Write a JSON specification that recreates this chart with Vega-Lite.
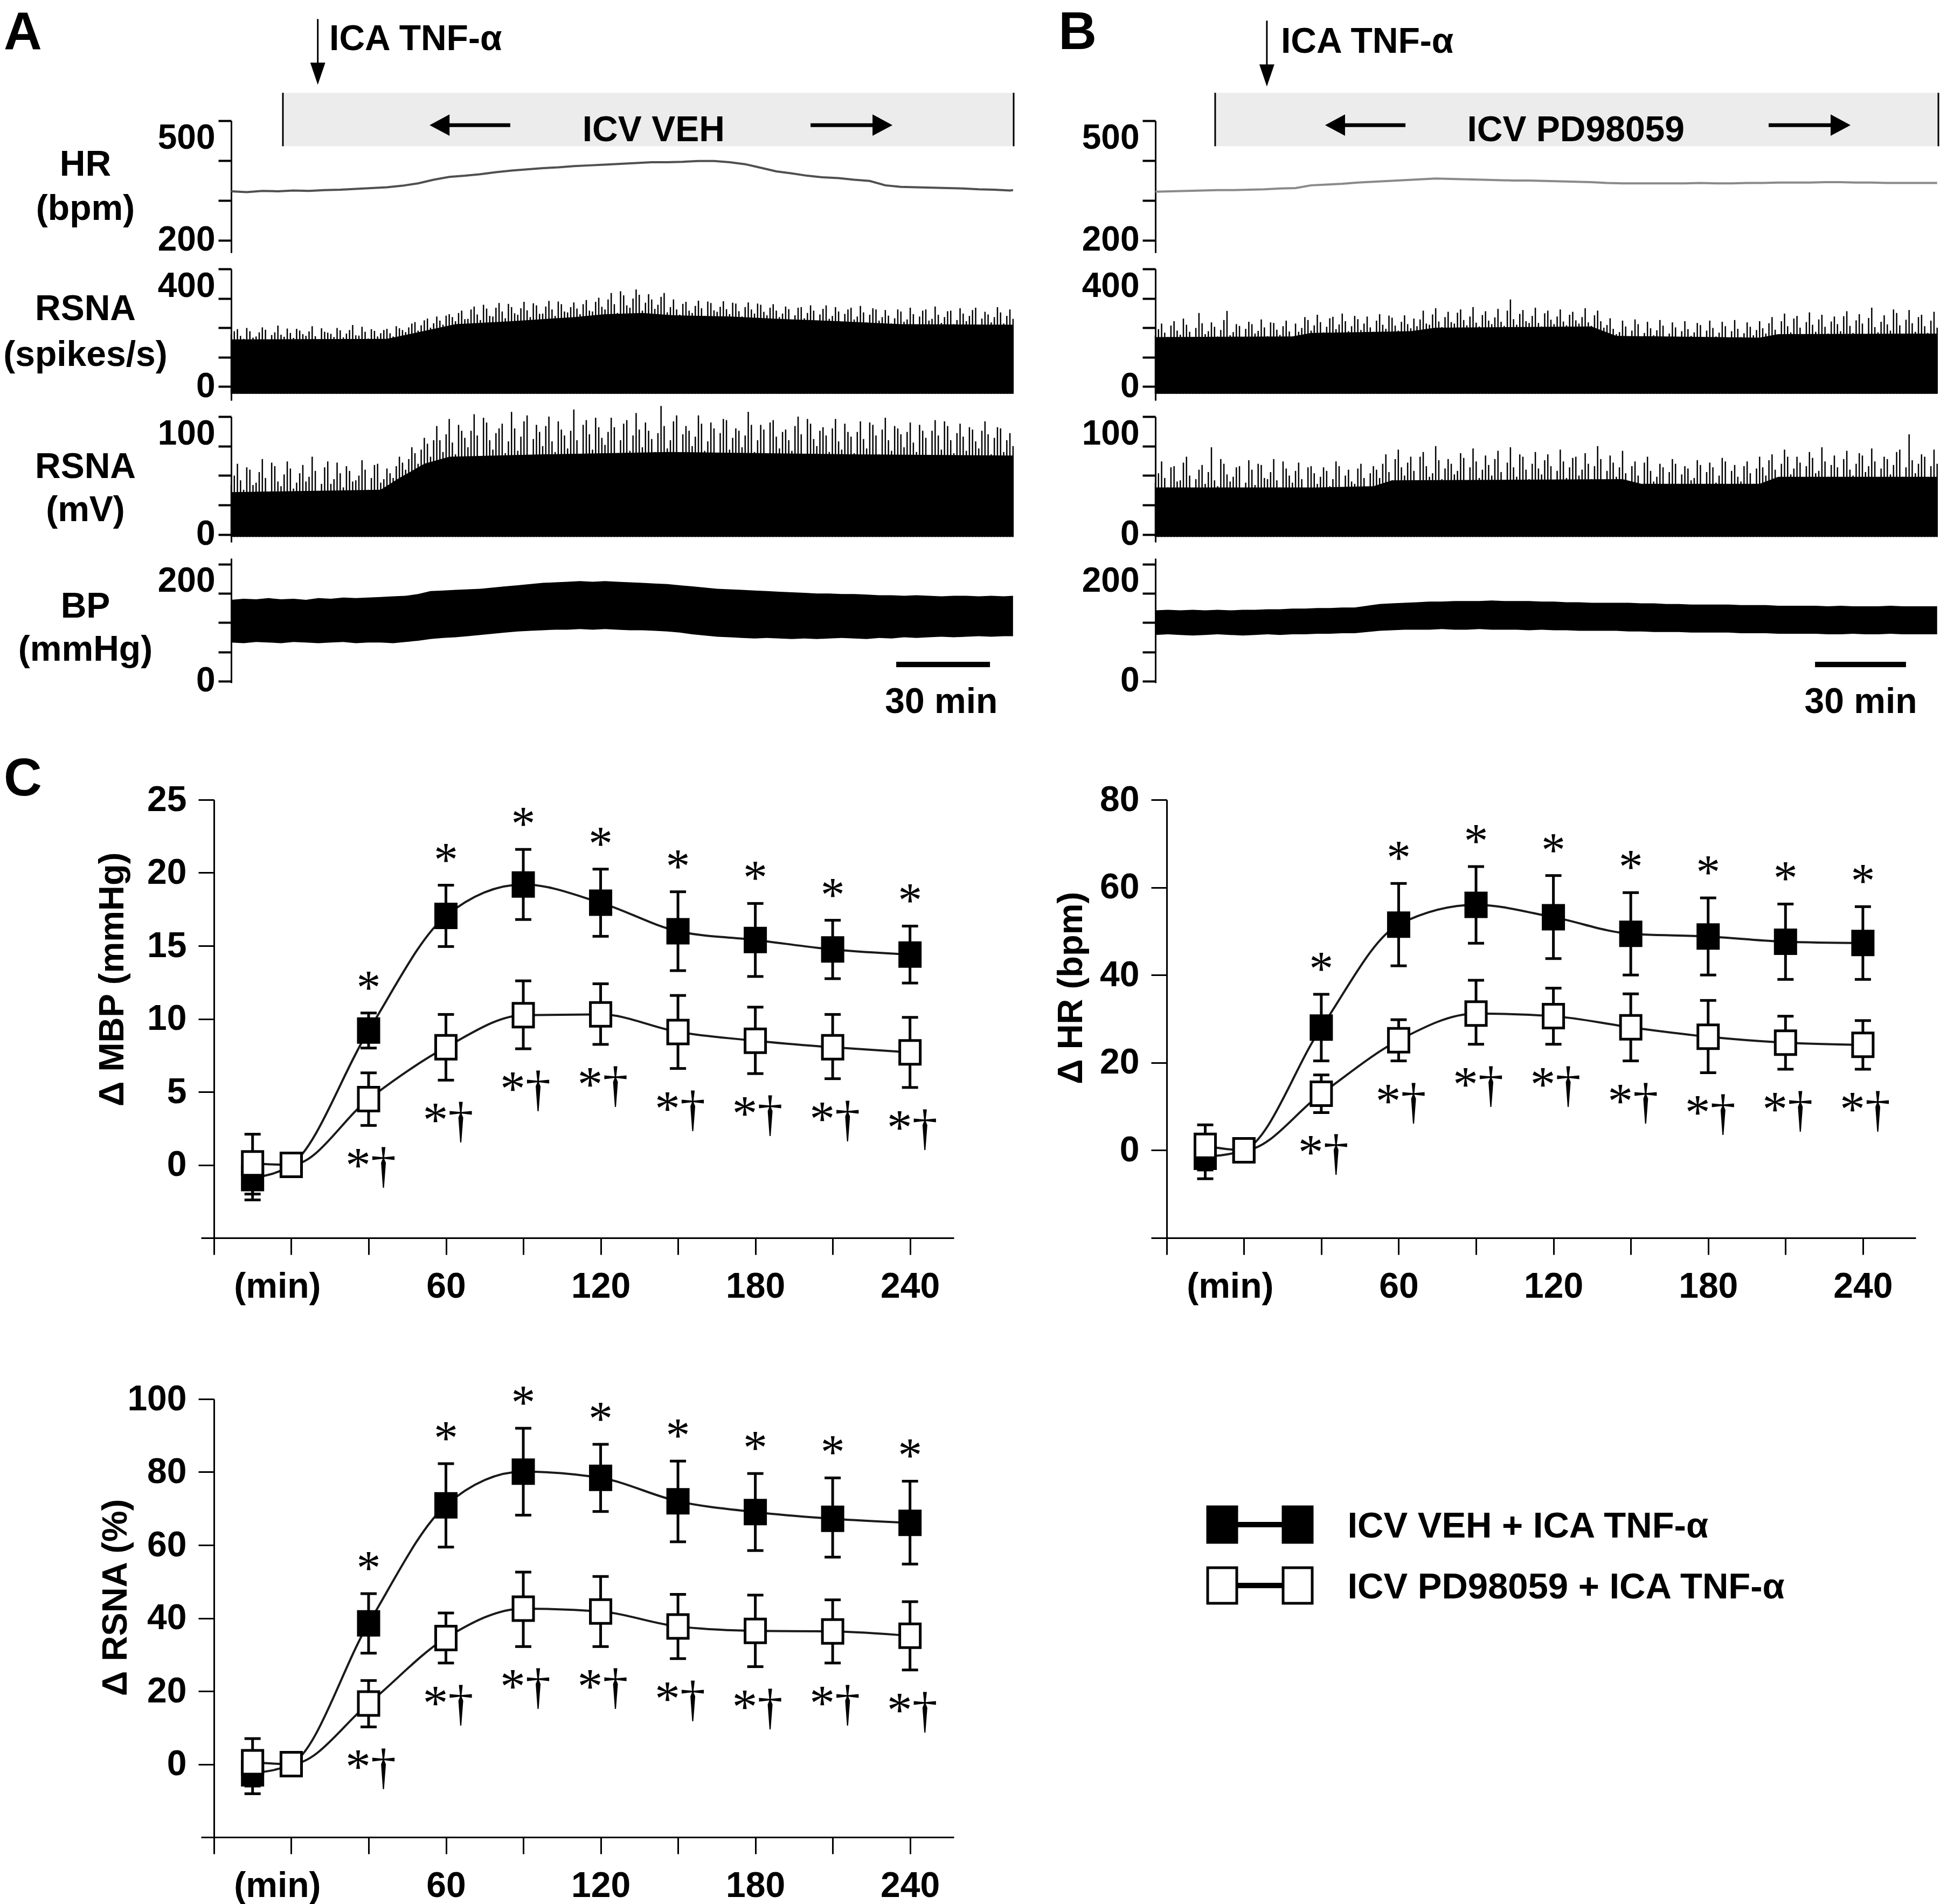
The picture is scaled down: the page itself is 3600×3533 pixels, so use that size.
{
"$schema":"https://vega.github.io/schema/vega-lite/v6.json",
"background":"white",
"padding":{"left":5,"top":13,"right":5,"bottom":5},
"config":{"view":{"stroke":null},"font":"Liberation Sans","axis":{"domainColor":"black","tickColor":"black","labelColor":"black","titleColor":"black","grid":false}},
"datasets":{
"hrA":[{"t":0,"v":323},{"t":5,"v":321},{"t":10,"v":324},{"t":15,"v":323},{"t":20,"v":325},{"t":25,"v":324},{"t":30,"v":326},{"t":35,"v":327},{"t":40,"v":329},{"t":45,"v":331},{"t":50,"v":333},{"t":55,"v":337},{"t":60,"v":343},{"t":65,"v":352},{"t":70,"v":359},{"t":75,"v":362},{"t":80,"v":366},{"t":85,"v":371},{"t":90,"v":375},{"t":95,"v":378},{"t":100,"v":381},{"t":105,"v":383},{"t":110,"v":386},{"t":115,"v":388},{"t":120,"v":390},{"t":125,"v":392},{"t":130,"v":394},{"t":135,"v":396},{"t":140,"v":396},{"t":145,"v":397},{"t":150,"v":399},{"t":155,"v":399},{"t":160,"v":396},{"t":165,"v":391},{"t":170,"v":382},{"t":175,"v":373},{"t":180,"v":368},{"t":185,"v":362},{"t":190,"v":358},{"t":195,"v":356},{"t":200,"v":352},{"t":205,"v":349},{"t":210,"v":338},{"t":215,"v":334},{"t":220,"v":333},{"t":225,"v":332},{"t":230,"v":331},{"t":235,"v":330},{"t":240,"v":328},{"t":245,"v":327},{"t":250,"v":325},{"t":251,"v":326}],
"hrB":[{"t":0,"v":322},{"t":5,"v":323},{"t":10,"v":324},{"t":15,"v":325},{"t":20,"v":326},{"t":25,"v":326},{"t":30,"v":327},{"t":35,"v":328},{"t":40,"v":330},{"t":45,"v":331},{"t":50,"v":338},{"t":55,"v":340},{"t":60,"v":342},{"t":65,"v":345},{"t":70,"v":347},{"t":75,"v":349},{"t":80,"v":351},{"t":85,"v":353},{"t":90,"v":355},{"t":95,"v":354},{"t":100,"v":353},{"t":105,"v":352},{"t":110,"v":351},{"t":115,"v":350},{"t":120,"v":350},{"t":125,"v":349},{"t":130,"v":348},{"t":135,"v":347},{"t":140,"v":346},{"t":145,"v":344},{"t":150,"v":343},{"t":155,"v":343},{"t":160,"v":343},{"t":165,"v":343},{"t":170,"v":343},{"t":175,"v":344},{"t":180,"v":343},{"t":185,"v":343},{"t":190,"v":344},{"t":195,"v":344},{"t":200,"v":345},{"t":205,"v":345},{"t":210,"v":345},{"t":215,"v":346},{"t":220,"v":346},{"t":225,"v":345},{"t":230,"v":345},{"t":235,"v":344},{"t":240,"v":344},{"t":245,"v":344},{"t":250,"v":344},{"t":251,"v":344}],
"spkAb":[{"t":0,"b":160},{"t":50,"b":162},{"t":58,"b":180},{"t":66,"b":198},{"t":72,"b":212},{"t":90,"b":222},{"t":110,"b":236},{"t":120,"b":246},{"t":132,"b":250},{"t":142,"b":242},{"t":160,"b":238},{"t":176,"b":230},{"t":195,"b":222},{"t":215,"b":212},{"t":251,"b":210}],
"spkBb":[{"t":0,"b":168},{"t":44,"b":170},{"t":50,"b":182},{"t":82,"b":188},{"t":90,"b":200},{"t":140,"b":204},{"t":148,"b":172},{"t":194,"b":166},{"t":200,"b":178},{"t":251,"b":180}],
"mvAb":[{"t":0,"b":36},{"t":48,"b":38},{"t":54,"b":48},{"t":62,"b":60},{"t":70,"b":66},{"t":100,"b":68},{"t":140,"b":70},{"t":200,"b":68},{"t":251,"b":67}],
"mvBb":[{"t":0,"b":40},{"t":52,"b":40},{"t":70,"b":41},{"t":76,"b":46},{"t":150,"b":47},{"t":156,"b":43},{"t":194,"b":43},{"t":200,"b":49},{"t":251,"b":49}],
"spkA":[{"t":0,"v":178},{"t":2,"v":195},{"t":4,"v":162},{"t":6,"v":188},{"t":8,"v":170},{"t":10,"v":201},{"t":12,"v":158},{"t":14,"v":184},{"t":16,"v":176},{"t":18,"v":197},{"t":20,"v":165},{"t":22,"v":190},{"t":24,"v":172},{"t":26,"v":205},{"t":28,"v":160},{"t":30,"v":186},{"t":32,"v":179},{"t":34,"v":199},{"t":36,"v":167},{"t":38,"v":192},{"t":40,"v":174},{"t":42,"v":203},{"t":44,"v":163},{"t":46,"v":189},{"t":48,"v":181},{"t":50,"v":196},{"t":52,"v":170},{"t":54,"v":198},{"t":56,"v":185},{"t":58,"v":214},{"t":60,"v":190},{"t":62,"v":225},{"t":64,"v":200},{"t":66,"v":238},{"t":68,"v":210},{"t":70,"v":246},{"t":72,"v":222},{"t":74,"v":258},{"t":76,"v":230},{"t":78,"v":272},{"t":80,"v":226},{"t":82,"v":265},{"t":84,"v":238},{"t":86,"v":284},{"t":88,"v":232},{"t":90,"v":270},{"t":92,"v":244},{"t":94,"v":288},{"t":96,"v":236},{"t":98,"v":276},{"t":100,"v":248},{"t":102,"v":291},{"t":104,"v":240},{"t":106,"v":280},{"t":108,"v":252},{"t":110,"v":286},{"t":112,"v":246},{"t":114,"v":294},{"t":116,"v":255},{"t":118,"v":302},{"t":120,"v":262},{"t":122,"v":318},{"t":124,"v":250},{"t":126,"v":310},{"t":128,"v":268},{"t":130,"v":330},{"t":132,"v":258},{"t":134,"v":314},{"t":136,"v":264},{"t":138,"v":305},{"t":140,"v":252},{"t":142,"v":296},{"t":144,"v":244},{"t":146,"v":288},{"t":148,"v":250},{"t":150,"v":292},{"t":152,"v":240},{"t":154,"v":284},{"t":156,"v":254},{"t":158,"v":290},{"t":160,"v":246},{"t":162,"v":282},{"t":164,"v":238},{"t":166,"v":286},{"t":168,"v":248},{"t":170,"v":278},{"t":172,"v":242},{"t":174,"v":280},{"t":176,"v":236},{"t":178,"v":272},{"t":180,"v":226},{"t":182,"v":268},{"t":184,"v":232},{"t":186,"v":276},{"t":188,"v":222},{"t":190,"v":264},{"t":192,"v":230},{"t":194,"v":270},{"t":196,"v":220},{"t":198,"v":262},{"t":200,"v":228},{"t":202,"v":274},{"t":204,"v":218},{"t":206,"v":266},{"t":208,"v":224},{"t":210,"v":260},{"t":212,"v":214},{"t":214,"v":262},{"t":216,"v":220},{"t":218,"v":268},{"t":220,"v":210},{"t":222,"v":258},{"t":224,"v":224},{"t":226,"v":272},{"t":228,"v":216},{"t":230,"v":256},{"t":232,"v":212},{"t":234,"v":266},{"t":236,"v":222},{"t":238,"v":260},{"t":240,"v":208},{"t":242,"v":254},{"t":244,"v":218},{"t":246,"v":270},{"t":248,"v":214},{"t":250,"v":262},{"t":251,"v":230},
{"t":1,"v":188},{"t":3,"v":172},{"t":5,"v":199},{"t":7,"v":166},{"t":9,"v":184},{"t":11,"v":193},{"t":13,"v":175},{"t":15,"v":207},{"t":17,"v":169},{"t":19,"v":182},{"t":21,"v":196},{"t":23,"v":178},{"t":25,"v":187},{"t":27,"v":171},{"t":29,"v":198},{"t":31,"v":183},{"t":33,"v":168},{"t":35,"v":191},{"t":37,"v":180},{"t":39,"v":209},{"t":41,"v":173},{"t":43,"v":186},{"t":45,"v":195},{"t":47,"v":170},{"t":49,"v":192},{"t":51,"v":181},{"t":53,"v":205},{"t":55,"v":192},{"t":57,"v":201},{"t":59,"v":219},{"t":61,"v":208},{"t":63,"v":231},{"t":65,"v":215},{"t":67,"v":224},{"t":69,"v":241},{"t":71,"v":236},{"t":73,"v":250},{"t":75,"v":229},{"t":77,"v":262},{"t":79,"v":245},{"t":81,"v":278},{"t":83,"v":240},{"t":85,"v":268},{"t":87,"v":255},{"t":89,"v":281},{"t":91,"v":249},{"t":93,"v":266},{"t":95,"v":259},{"t":97,"v":283},{"t":99,"v":247},{"t":101,"v":272},{"t":103,"v":262},{"t":105,"v":289},{"t":107,"v":255},{"t":109,"v":270},{"t":111,"v":265},{"t":113,"v":280},{"t":115,"v":258},{"t":117,"v":288},{"t":119,"v":271},{"t":121,"v":296},{"t":123,"v":280},{"t":125,"v":324},{"t":127,"v":276},{"t":129,"v":299},{"t":131,"v":312},{"t":133,"v":285},{"t":135,"v":296},{"t":137,"v":278},{"t":139,"v":318},{"t":141,"v":270},{"t":143,"v":262},{"t":145,"v":281},{"t":147,"v":258},{"t":149,"v":274},{"t":151,"v":266},{"t":153,"v":289},{"t":155,"v":259},{"t":157,"v":271},{"t":159,"v":263},{"t":161,"v":285},{"t":163,"v":256},{"t":165,"v":270},{"t":167,"v":262},{"t":169,"v":282},{"t":171,"v":254},{"t":173,"v":268},{"t":175,"v":258},{"t":177,"v":248},{"t":179,"v":263},{"t":181,"v":242},{"t":183,"v":270},{"t":185,"v":250},{"t":187,"v":258},{"t":189,"v":245},{"t":191,"v":276},{"t":193,"v":240},{"t":195,"v":255},{"t":197,"v":247},{"t":199,"v":268},{"t":201,"v":238},{"t":203,"v":252},{"t":205,"v":244},{"t":207,"v":262},{"t":209,"v":236},{"t":211,"v":241},{"t":213,"v":232},{"t":215,"v":255},{"t":217,"v":228},{"t":219,"v":246},{"t":221,"v":238},{"t":223,"v":262},{"t":225,"v":230},{"t":227,"v":244},{"t":229,"v":236},{"t":231,"v":258},{"t":233,"v":226},{"t":235,"v":248},{"t":237,"v":240},{"t":239,"v":268},{"t":241,"v":231},{"t":243,"v":245},{"t":245,"v":236},{"t":247,"v":252},{"t":249,"v":240}],
"spkB":[{"t":0,"v":172},{"t":2,"v":214},{"t":4,"v":168},{"t":6,"v":222},{"t":8,"v":176},{"t":10,"v":210},{"t":12,"v":165},{"t":14,"v":250},{"t":16,"v":178},{"t":18,"v":218},{"t":20,"v":170},{"t":22,"v":226},{"t":24,"v":174},{"t":26,"v":212},{"t":28,"v":166},{"t":30,"v":220},{"t":32,"v":180},{"t":34,"v":228},{"t":36,"v":171},{"t":38,"v":216},{"t":40,"v":175},{"t":42,"v":224},{"t":44,"v":169},{"t":46,"v":186},{"t":48,"v":236},{"t":50,"v":190},{"t":52,"v":244},{"t":54,"v":184},{"t":56,"v":232},{"t":58,"v":195},{"t":60,"v":248},{"t":62,"v":188},{"t":64,"v":240},{"t":66,"v":192},{"t":68,"v":238},{"t":70,"v":186},{"t":72,"v":246},{"t":74,"v":196},{"t":76,"v":234},{"t":78,"v":190},{"t":80,"v":242},{"t":82,"v":198},{"t":84,"v":205},{"t":86,"v":258},{"t":88,"v":210},{"t":90,"v":266},{"t":92,"v":202},{"t":94,"v":254},{"t":96,"v":214},{"t":98,"v":262},{"t":100,"v":208},{"t":102,"v":270},{"t":104,"v":204},{"t":106,"v":256},{"t":108,"v":212},{"t":110,"v":264},{"t":112,"v":206},{"t":114,"v":296},{"t":116,"v":210},{"t":118,"v":260},{"t":120,"v":216},{"t":122,"v":268},{"t":124,"v":204},{"t":126,"v":258},{"t":128,"v":212},{"t":130,"v":262},{"t":132,"v":208},{"t":134,"v":254},{"t":136,"v":214},{"t":138,"v":266},{"t":140,"v":206},{"t":142,"v":258},{"t":144,"v":200},{"t":146,"v":232},{"t":148,"v":178},{"t":150,"v":224},{"t":152,"v":170},{"t":154,"v":228},{"t":156,"v":166},{"t":158,"v":220},{"t":160,"v":174},{"t":162,"v":226},{"t":164,"v":168},{"t":166,"v":218},{"t":168,"v":164},{"t":170,"v":222},{"t":172,"v":172},{"t":174,"v":216},{"t":176,"v":166},{"t":178,"v":224},{"t":180,"v":170},{"t":182,"v":220},{"t":184,"v":162},{"t":186,"v":226},{"t":188,"v":168},{"t":190,"v":218},{"t":192,"v":174},{"t":194,"v":222},{"t":196,"v":180},{"t":198,"v":236},{"t":200,"v":176},{"t":202,"v":248},{"t":204,"v":184},{"t":206,"v":240},{"t":208,"v":178},{"t":210,"v":252},{"t":212,"v":186},{"t":214,"v":244},{"t":216,"v":180},{"t":218,"v":238},{"t":220,"v":188},{"t":222,"v":256},{"t":224,"v":182},{"t":226,"v":246},{"t":228,"v":176},{"t":230,"v":268},{"t":232,"v":184},{"t":234,"v":242},{"t":236,"v":190},{"t":238,"v":250},{"t":240,"v":180},{"t":242,"v":260},{"t":244,"v":186},{"t":246,"v":244},{"t":248,"v":182},{"t":250,"v":254},{"t":251,"v":200},
{"t":1,"v":195},{"t":3,"v":183},{"t":5,"v":207},{"t":7,"v":190},{"t":9,"v":231},{"t":11,"v":186},{"t":13,"v":199},{"t":15,"v":215},{"t":17,"v":188},{"t":19,"v":203},{"t":21,"v":192},{"t":23,"v":257},{"t":25,"v":185},{"t":27,"v":206},{"t":29,"v":196},{"t":31,"v":212},{"t":33,"v":189},{"t":35,"v":201},{"t":37,"v":218},{"t":39,"v":193},{"t":41,"v":205},{"t":43,"v":187},{"t":45,"v":214},{"t":47,"v":199},{"t":49,"v":226},{"t":51,"v":208},{"t":53,"v":219},{"t":55,"v":203},{"t":57,"v":237},{"t":59,"v":211},{"t":61,"v":222},{"t":63,"v":205},{"t":65,"v":229},{"t":67,"v":214},{"t":69,"v":201},{"t":71,"v":224},{"t":73,"v":210},{"t":75,"v":241},{"t":77,"v":207},{"t":79,"v":220},{"t":81,"v":212},{"t":83,"v":231},{"t":85,"v":228},{"t":87,"v":214},{"t":89,"v":245},{"t":91,"v":221},{"t":93,"v":236},{"t":95,"v":219},{"t":97,"v":251},{"t":99,"v":226},{"t":101,"v":238},{"t":103,"v":217},{"t":105,"v":243},{"t":107,"v":224},{"t":109,"v":235},{"t":111,"v":220},{"t":113,"v":258},{"t":115,"v":229},{"t":117,"v":247},{"t":119,"v":222},{"t":121,"v":240},{"t":123,"v":216},{"t":125,"v":249},{"t":127,"v":227},{"t":129,"v":238},{"t":131,"v":221},{"t":133,"v":244},{"t":135,"v":225},{"t":137,"v":236},{"t":139,"v":218},{"t":141,"v":242},{"t":143,"v":222},{"t":145,"v":209},{"t":147,"v":196},{"t":149,"v":185},{"t":151,"v":204},{"t":153,"v":190},{"t":155,"v":212},{"t":157,"v":182},{"t":159,"v":198},{"t":161,"v":191},{"t":163,"v":207},{"t":165,"v":180},{"t":167,"v":201},{"t":169,"v":188},{"t":171,"v":195},{"t":173,"v":184},{"t":175,"v":209},{"t":177,"v":190},{"t":179,"v":199},{"t":181,"v":183},{"t":183,"v":205},{"t":185,"v":188},{"t":187,"v":196},{"t":189,"v":181},{"t":191,"v":203},{"t":193,"v":192},{"t":195,"v":198},{"t":197,"v":215},{"t":199,"v":193},{"t":201,"v":222},{"t":203,"v":205},{"t":205,"v":231},{"t":207,"v":200},{"t":209,"v":219},{"t":211,"v":210},{"t":213,"v":228},{"t":215,"v":203},{"t":217,"v":221},{"t":219,"v":212},{"t":221,"v":239},{"t":223,"v":206},{"t":225,"v":225},{"t":227,"v":214},{"t":229,"v":233},{"t":231,"v":202},{"t":233,"v":220},{"t":235,"v":211},{"t":237,"v":262},{"t":239,"v":208},{"t":241,"v":227},{"t":243,"v":215},{"t":245,"v":236},{"t":247,"v":205},{"t":249,"v":224}],
"mvA":[{"t":0,"v":42},{"t":2,"v":60},{"t":4,"v":38},{"t":6,"v":55},{"t":8,"v":44},{"t":10,"v":64},{"t":12,"v":36},{"t":14,"v":58},{"t":16,"v":41},{"t":18,"v":62},{"t":20,"v":39},{"t":22,"v":52},{"t":24,"v":45},{"t":26,"v":66},{"t":28,"v":37},{"t":30,"v":57},{"t":32,"v":43},{"t":34,"v":61},{"t":36,"v":40},{"t":38,"v":54},{"t":40,"v":46},{"t":42,"v":63},{"t":44,"v":38},{"t":46,"v":59},{"t":48,"v":44},{"t":50,"v":56},{"t":52,"v":48},{"t":54,"v":66},{"t":56,"v":55},{"t":58,"v":74},{"t":60,"v":60},{"t":62,"v":82},{"t":64,"v":66},{"t":66,"v":92},{"t":68,"v":70},{"t":70,"v":98},{"t":72,"v":68},{"t":74,"v":88},{"t":76,"v":74},{"t":78,"v":102},{"t":80,"v":66},{"t":82,"v":95},{"t":84,"v":72},{"t":86,"v":90},{"t":88,"v":69},{"t":90,"v":104},{"t":92,"v":71},{"t":94,"v":96},{"t":96,"v":67},{"t":98,"v":93},{"t":100,"v":75},{"t":102,"v":100},{"t":104,"v":70},{"t":106,"v":89},{"t":108,"v":73},{"t":110,"v":106},{"t":112,"v":68},{"t":114,"v":97},{"t":116,"v":72},{"t":118,"v":91},{"t":120,"v":76},{"t":122,"v":99},{"t":124,"v":69},{"t":126,"v":94},{"t":128,"v":71},{"t":130,"v":103},{"t":132,"v":74},{"t":134,"v":88},{"t":136,"v":70},{"t":138,"v":109},{"t":140,"v":73},{"t":142,"v":96},{"t":144,"v":68},{"t":146,"v":92},{"t":148,"v":75},{"t":150,"v":101},{"t":152,"v":71},{"t":154,"v":95},{"t":156,"v":69},{"t":158,"v":98},{"t":160,"v":72},{"t":162,"v":90},{"t":164,"v":74},{"t":166,"v":104},{"t":168,"v":70},{"t":170,"v":93},{"t":172,"v":67},{"t":174,"v":97},{"t":176,"v":73},{"t":178,"v":89},{"t":180,"v":71},{"t":182,"v":100},{"t":184,"v":68},{"t":186,"v":94},{"t":188,"v":75},{"t":190,"v":91},{"t":192,"v":70},{"t":194,"v":98},{"t":196,"v":72},{"t":198,"v":87},{"t":200,"v":69},{"t":202,"v":96},{"t":204,"v":73},{"t":206,"v":93},{"t":208,"v":68},{"t":210,"v":99},{"t":212,"v":71},{"t":214,"v":90},{"t":216,"v":74},{"t":218,"v":95},{"t":220,"v":70},{"t":222,"v":88},{"t":224,"v":67},{"t":226,"v":97},{"t":228,"v":72},{"t":230,"v":92},{"t":232,"v":69},{"t":234,"v":94},{"t":236,"v":71},{"t":238,"v":89},{"t":240,"v":73},{"t":242,"v":96},{"t":244,"v":68},{"t":246,"v":91},{"t":248,"v":70},{"t":250,"v":86},{"t":251,"v":75},
{"t":1,"v":50},{"t":3,"v":46},{"t":5,"v":57},{"t":7,"v":42},{"t":9,"v":53},{"t":11,"v":48},{"t":13,"v":61},{"t":15,"v":45},{"t":17,"v":51},{"t":19,"v":56},{"t":21,"v":44},{"t":23,"v":59},{"t":25,"v":49},{"t":27,"v":54},{"t":29,"v":43},{"t":31,"v":62},{"t":33,"v":47},{"t":35,"v":52},{"t":37,"v":58},{"t":39,"v":45},{"t":41,"v":50},{"t":43,"v":55},{"t":45,"v":48},{"t":47,"v":60},{"t":49,"v":47},{"t":51,"v":52},{"t":53,"v":58},{"t":55,"v":61},{"t":57,"v":64},{"t":59,"v":69},{"t":61,"v":72},{"t":63,"v":77},{"t":65,"v":80},{"t":67,"v":80},{"t":69,"v":85},{"t":71,"v":78},{"t":73,"v":93},{"t":75,"v":82},{"t":77,"v":88},{"t":79,"v":84},{"t":81,"v":99},{"t":83,"v":80},{"t":85,"v":86},{"t":87,"v":94},{"t":89,"v":79},{"t":91,"v":90},{"t":93,"v":83},{"t":95,"v":101},{"t":97,"v":81},{"t":99,"v":87},{"t":101,"v":92},{"t":103,"v":79},{"t":105,"v":96},{"t":107,"v":84},{"t":109,"v":88},{"t":111,"v":80},{"t":113,"v":93},{"t":115,"v":85},{"t":117,"v":99},{"t":119,"v":82},{"t":121,"v":87},{"t":123,"v":91},{"t":125,"v":80},{"t":127,"v":97},{"t":129,"v":84},{"t":131,"v":89},{"t":133,"v":95},{"t":135,"v":81},{"t":137,"v":86},{"t":139,"v":92},{"t":141,"v":80},{"t":143,"v":101},{"t":145,"v":85},{"t":147,"v":88},{"t":149,"v":83},{"t":151,"v":94},{"t":153,"v":79},{"t":155,"v":90},{"t":157,"v":86},{"t":159,"v":97},{"t":161,"v":82},{"t":163,"v":88},{"t":165,"v":84},{"t":167,"v":93},{"t":169,"v":80},{"t":171,"v":89},{"t":173,"v":95},{"t":175,"v":83},{"t":177,"v":87},{"t":179,"v":80},{"t":181,"v":92},{"t":183,"v":85},{"t":185,"v":98},{"t":187,"v":81},{"t":189,"v":88},{"t":191,"v":84},{"t":193,"v":90},{"t":195,"v":79},{"t":197,"v":94},{"t":199,"v":83},{"t":201,"v":87},{"t":203,"v":81},{"t":205,"v":95},{"t":207,"v":84},{"t":209,"v":89},{"t":211,"v":80},{"t":213,"v":92},{"t":215,"v":85},{"t":217,"v":87},{"t":219,"v":78},{"t":221,"v":93},{"t":223,"v":82},{"t":225,"v":88},{"t":227,"v":84},{"t":229,"v":96},{"t":231,"v":80},{"t":233,"v":86},{"t":235,"v":83},{"t":237,"v":91},{"t":239,"v":79},{"t":241,"v":88},{"t":243,"v":85},{"t":245,"v":82},{"t":247,"v":90},{"t":249,"v":80}],
"mvB":[{"t":0,"v":44},{"t":2,"v":62},{"t":4,"v":40},{"t":6,"v":58},{"t":8,"v":46},{"t":10,"v":66},{"t":12,"v":39},{"t":14,"v":55},{"t":16,"v":43},{"t":18,"v":74},{"t":20,"v":41},{"t":22,"v":60},{"t":24,"v":45},{"t":26,"v":57},{"t":28,"v":38},{"t":30,"v":63},{"t":32,"v":42},{"t":34,"v":59},{"t":36,"v":47},{"t":38,"v":64},{"t":40,"v":40},{"t":42,"v":56},{"t":44,"v":44},{"t":46,"v":61},{"t":48,"v":39},{"t":50,"v":58},{"t":52,"v":43},{"t":54,"v":57},{"t":56,"v":41},{"t":58,"v":62},{"t":60,"v":38},{"t":62,"v":55},{"t":64,"v":43},{"t":66,"v":60},{"t":68,"v":40},{"t":70,"v":58},{"t":72,"v":48},{"t":74,"v":68},{"t":76,"v":46},{"t":78,"v":72},{"t":80,"v":50},{"t":82,"v":66},{"t":84,"v":45},{"t":86,"v":70},{"t":88,"v":49},{"t":90,"v":75},{"t":92,"v":47},{"t":94,"v":64},{"t":96,"v":51},{"t":98,"v":69},{"t":100,"v":46},{"t":102,"v":73},{"t":104,"v":48},{"t":106,"v":67},{"t":108,"v":50},{"t":110,"v":71},{"t":112,"v":45},{"t":114,"v":74},{"t":116,"v":49},{"t":118,"v":66},{"t":120,"v":47},{"t":122,"v":70},{"t":124,"v":51},{"t":126,"v":68},{"t":128,"v":46},{"t":130,"v":72},{"t":132,"v":48},{"t":134,"v":65},{"t":136,"v":50},{"t":138,"v":69},{"t":140,"v":47},{"t":142,"v":75},{"t":144,"v":45},{"t":146,"v":67},{"t":148,"v":49},{"t":150,"v":71},{"t":152,"v":44},{"t":154,"v":62},{"t":156,"v":42},{"t":158,"v":66},{"t":160,"v":45},{"t":162,"v":60},{"t":164,"v":41},{"t":166,"v":64},{"t":168,"v":43},{"t":170,"v":58},{"t":172,"v":46},{"t":174,"v":63},{"t":176,"v":40},{"t":178,"v":61},{"t":180,"v":44},{"t":182,"v":65},{"t":184,"v":42},{"t":186,"v":59},{"t":188,"v":45},{"t":190,"v":62},{"t":192,"v":43},{"t":194,"v":66},{"t":196,"v":50},{"t":198,"v":68},{"t":200,"v":47},{"t":202,"v":72},{"t":204,"v":51},{"t":206,"v":66},{"t":208,"v":48},{"t":210,"v":70},{"t":212,"v":52},{"t":214,"v":74},{"t":216,"v":49},{"t":218,"v":67},{"t":220,"v":46},{"t":222,"v":71},{"t":224,"v":50},{"t":226,"v":69},{"t":228,"v":53},{"t":230,"v":73},{"t":232,"v":48},{"t":234,"v":66},{"t":236,"v":51},{"t":238,"v":70},{"t":240,"v":49},{"t":242,"v":85},{"t":244,"v":52},{"t":246,"v":68},{"t":248,"v":48},{"t":250,"v":72},{"t":251,"v":60},
{"t":1,"v":52},{"t":3,"v":48},{"t":5,"v":57},{"t":7,"v":45},{"t":9,"v":61},{"t":11,"v":50},{"t":13,"v":47},{"t":15,"v":59},{"t":17,"v":53},{"t":19,"v":46},{"t":21,"v":64},{"t":23,"v":51},{"t":25,"v":49},{"t":27,"v":58},{"t":29,"v":44},{"t":31,"v":55},{"t":33,"v":60},{"t":35,"v":48},{"t":37,"v":53},{"t":39,"v":46},{"t":41,"v":62},{"t":43,"v":50},{"t":45,"v":54},{"t":47,"v":47},{"t":49,"v":57},{"t":51,"v":52},{"t":53,"v":49},{"t":55,"v":54},{"t":57,"v":47},{"t":59,"v":58},{"t":61,"v":50},{"t":63,"v":45},{"t":65,"v":56},{"t":67,"v":48},{"t":69,"v":52},{"t":71,"v":55},{"t":73,"v":60},{"t":75,"v":53},{"t":77,"v":64},{"t":79,"v":57},{"t":81,"v":61},{"t":83,"v":54},{"t":85,"v":66},{"t":87,"v":58},{"t":89,"v":52},{"t":91,"v":63},{"t":93,"v":56},{"t":95,"v":60},{"t":97,"v":54},{"t":99,"v":65},{"t":101,"v":57},{"t":103,"v":62},{"t":105,"v":55},{"t":107,"v":59},{"t":109,"v":64},{"t":111,"v":53},{"t":113,"v":61},{"t":115,"v":57},{"t":117,"v":68},{"t":119,"v":55},{"t":121,"v":60},{"t":123,"v":56},{"t":125,"v":63},{"t":127,"v":58},{"t":129,"v":54},{"t":131,"v":62},{"t":133,"v":57},{"t":135,"v":66},{"t":137,"v":55},{"t":139,"v":60},{"t":141,"v":58},{"t":143,"v":64},{"t":145,"v":54},{"t":147,"v":61},{"t":149,"v":57},{"t":151,"v":52},{"t":153,"v":58},{"t":155,"v":50},{"t":157,"v":61},{"t":159,"v":54},{"t":161,"v":49},{"t":163,"v":57},{"t":165,"v":53},{"t":167,"v":60},{"t":169,"v":51},{"t":171,"v":56},{"t":173,"v":48},{"t":175,"v":59},{"t":177,"v":53},{"t":179,"v":57},{"t":181,"v":50},{"t":183,"v":62},{"t":185,"v":54},{"t":187,"v":49},{"t":189,"v":58},{"t":191,"v":52},{"t":193,"v":56},{"t":195,"v":57},{"t":197,"v":63},{"t":199,"v":55},{"t":201,"v":60},{"t":203,"v":66},{"t":205,"v":56},{"t":207,"v":61},{"t":209,"v":58},{"t":211,"v":65},{"t":213,"v":54},{"t":215,"v":62},{"t":217,"v":59},{"t":219,"v":57},{"t":221,"v":64},{"t":223,"v":55},{"t":225,"v":60},{"t":227,"v":67},{"t":229,"v":58},{"t":231,"v":62},{"t":233,"v":56},{"t":235,"v":64},{"t":237,"v":59},{"t":239,"v":72},{"t":241,"v":57},{"t":243,"v":63},{"t":245,"v":60},{"t":247,"v":66},{"t":249,"v":58}],
"bpA":[{"t":0,"lo":66,"hi":139},{"t":4,"lo":65,"hi":141},{"t":8,"lo":67,"hi":140},{"t":12,"lo":66,"hi":142},{"t":16,"lo":65,"hi":140},{"t":20,"lo":67,"hi":141},{"t":24,"lo":66,"hi":139},{"t":28,"lo":65,"hi":142},{"t":32,"lo":66,"hi":141},{"t":36,"lo":67,"hi":143},{"t":40,"lo":65,"hi":142},{"t":44,"lo":66,"hi":143},{"t":48,"lo":66,"hi":144},{"t":52,"lo":65,"hi":145},{"t":56,"lo":67,"hi":146},{"t":60,"lo":69,"hi":149},{"t":64,"lo":72,"hi":154},{"t":68,"lo":74,"hi":155},{"t":72,"lo":75,"hi":156},{"t":76,"lo":77,"hi":157},{"t":80,"lo":79,"hi":158},{"t":84,"lo":81,"hi":160},{"t":88,"lo":83,"hi":162},{"t":92,"lo":85,"hi":164},{"t":96,"lo":86,"hi":166},{"t":100,"lo":87,"hi":168},{"t":104,"lo":88,"hi":169},{"t":108,"lo":88,"hi":170},{"t":112,"lo":89,"hi":171},{"t":116,"lo":88,"hi":170},{"t":120,"lo":89,"hi":171},{"t":124,"lo":88,"hi":170},{"t":128,"lo":87,"hi":169},{"t":132,"lo":87,"hi":168},{"t":136,"lo":86,"hi":167},{"t":140,"lo":85,"hi":166},{"t":144,"lo":83,"hi":164},{"t":148,"lo":80,"hi":162},{"t":152,"lo":78,"hi":160},{"t":156,"lo":76,"hi":158},{"t":160,"lo":75,"hi":157},{"t":164,"lo":74,"hi":156},{"t":168,"lo":73,"hi":155},{"t":172,"lo":74,"hi":154},{"t":176,"lo":73,"hi":153},{"t":180,"lo":72,"hi":152},{"t":184,"lo":73,"hi":151},{"t":188,"lo":72,"hi":150},{"t":192,"lo":73,"hi":150},{"t":196,"lo":74,"hi":149},{"t":200,"lo":73,"hi":149},{"t":204,"lo":72,"hi":148},{"t":208,"lo":74,"hi":147},{"t":212,"lo":73,"hi":147},{"t":216,"lo":75,"hi":146},{"t":220,"lo":74,"hi":147},{"t":224,"lo":75,"hi":146},{"t":228,"lo":76,"hi":145},{"t":232,"lo":75,"hi":146},{"t":236,"lo":76,"hi":146},{"t":240,"lo":77,"hi":145},{"t":244,"lo":76,"hi":146},{"t":248,"lo":77,"hi":145},{"t":251,"lo":77,"hi":146}],
"bpB":[{"t":0,"lo":79,"hi":121},{"t":4,"lo":80,"hi":122},{"t":8,"lo":79,"hi":121},{"t":12,"lo":78,"hi":122},{"t":16,"lo":79,"hi":121},{"t":20,"lo":80,"hi":122},{"t":24,"lo":79,"hi":121},{"t":28,"lo":78,"hi":122},{"t":32,"lo":79,"hi":122},{"t":36,"lo":80,"hi":123},{"t":40,"lo":79,"hi":123},{"t":44,"lo":80,"hi":124},{"t":48,"lo":80,"hi":124},{"t":52,"lo":81,"hi":125},{"t":56,"lo":81,"hi":125},{"t":60,"lo":82,"hi":126},{"t":64,"lo":82,"hi":126},{"t":68,"lo":84,"hi":129},{"t":72,"lo":86,"hi":132},{"t":76,"lo":87,"hi":133},{"t":80,"lo":88,"hi":134},{"t":84,"lo":88,"hi":135},{"t":88,"lo":88,"hi":136},{"t":92,"lo":89,"hi":136},{"t":96,"lo":88,"hi":137},{"t":100,"lo":88,"hi":137},{"t":104,"lo":89,"hi":137},{"t":108,"lo":88,"hi":138},{"t":112,"lo":88,"hi":137},{"t":116,"lo":88,"hi":137},{"t":120,"lo":87,"hi":137},{"t":124,"lo":88,"hi":136},{"t":128,"lo":87,"hi":136},{"t":132,"lo":87,"hi":135},{"t":136,"lo":86,"hi":135},{"t":140,"lo":86,"hi":134},{"t":144,"lo":86,"hi":134},{"t":148,"lo":86,"hi":134},{"t":152,"lo":85,"hi":134},{"t":156,"lo":85,"hi":133},{"t":160,"lo":84,"hi":133},{"t":164,"lo":84,"hi":132},{"t":168,"lo":84,"hi":132},{"t":172,"lo":83,"hi":131},{"t":176,"lo":83,"hi":131},{"t":180,"lo":83,"hi":131},{"t":184,"lo":83,"hi":131},{"t":188,"lo":82,"hi":130},{"t":192,"lo":82,"hi":130},{"t":196,"lo":82,"hi":130},{"t":200,"lo":81,"hi":129},{"t":204,"lo":81,"hi":129},{"t":208,"lo":81,"hi":129},{"t":212,"lo":81,"hi":129},{"t":216,"lo":80,"hi":128},{"t":220,"lo":80,"hi":129},{"t":224,"lo":81,"hi":128},{"t":228,"lo":80,"hi":128},{"t":232,"lo":80,"hi":128},{"t":236,"lo":81,"hi":129},{"t":240,"lo":80,"hi":128},{"t":244,"lo":80,"hi":128},{"t":248,"lo":80,"hi":128},{"t":251,"lo":80,"hi":128}],
"cdata":[
{"c":"MBP","g":"VEH","x":-15,"m":-0.9,"lo":-2.4,"hi":0.6},{"c":"MBP","g":"VEH","x":0,"m":0,"lo":0,"hi":0},{"c":"MBP","g":"VEH","x":30,"m":9.2,"lo":8.0,"hi":10.4},{"c":"MBP","g":"VEH","x":60,"m":17.05,"lo":14.95,"hi":19.15},{"c":"MBP","g":"VEH","x":90,"m":19.2,"lo":16.8,"hi":21.6},{"c":"MBP","g":"VEH","x":120,"m":17.95,"lo":15.65,"hi":20.25},{"c":"MBP","g":"VEH","x":150,"m":16.0,"lo":13.3,"hi":18.7},{"c":"MBP","g":"VEH","x":180,"m":15.4,"lo":12.9,"hi":17.9},{"c":"MBP","g":"VEH","x":210,"m":14.75,"lo":12.75,"hi":16.75},{"c":"MBP","g":"VEH","x":240,"m":14.4,"lo":12.45,"hi":16.35},
{"c":"MBP","g":"PD","x":-15,"m":0.1,"lo":-2.0,"hi":2.1},{"c":"MBP","g":"PD","x":0,"m":0,"lo":0,"hi":0},{"c":"MBP","g":"PD","x":30,"m":4.5,"lo":2.7,"hi":6.3},{"c":"MBP","g":"PD","x":60,"m":8.05,"lo":5.8,"hi":10.3},{"c":"MBP","g":"PD","x":90,"m":10.25,"lo":7.95,"hi":12.6},{"c":"MBP","g":"PD","x":120,"m":10.3,"lo":8.25,"hi":12.4},{"c":"MBP","g":"PD","x":150,"m":9.1,"lo":6.6,"hi":11.6},{"c":"MBP","g":"PD","x":180,"m":8.5,"lo":6.25,"hi":10.8},{"c":"MBP","g":"PD","x":210,"m":8.05,"lo":5.9,"hi":10.3},{"c":"MBP","g":"PD","x":240,"m":7.7,"lo":5.3,"hi":10.1},
{"c":"HR","g":"VEH","x":-15,"m":-1.5,"lo":-6.5,"hi":3.5},{"c":"HR","g":"VEH","x":0,"m":0,"lo":0,"hi":0},{"c":"HR","g":"VEH","x":30,"m":28,"lo":20.4,"hi":35.6},{"c":"HR","g":"VEH","x":60,"m":51.5,"lo":42.1,"hi":60.9},{"c":"HR","g":"VEH","x":90,"m":56.0,"lo":47.25,"hi":64.75},{"c":"HR","g":"VEH","x":120,"m":53.2,"lo":43.75,"hi":62.7},{"c":"HR","g":"VEH","x":150,"m":49.4,"lo":40.0,"hi":58.8},{"c":"HR","g":"VEH","x":180,"m":48.8,"lo":40.0,"hi":57.6},{"c":"HR","g":"VEH","x":210,"m":47.6,"lo":39.0,"hi":56.2},{"c":"HR","g":"VEH","x":240,"m":47.3,"lo":39.0,"hi":55.6},
{"c":"HR","g":"PD","x":-15,"m":1.0,"lo":-4.5,"hi":5.8},{"c":"HR","g":"PD","x":0,"m":0,"lo":0,"hi":0},{"c":"HR","g":"PD","x":30,"m":12.9,"lo":8.6,"hi":17.2},{"c":"HR","g":"PD","x":60,"m":25.1,"lo":20.4,"hi":29.8},{"c":"HR","g":"PD","x":90,"m":31.2,"lo":24.2,"hi":38.8},{"c":"HR","g":"PD","x":120,"m":30.6,"lo":24.2,"hi":37.0},{"c":"HR","g":"PD","x":150,"m":28.05,"lo":20.4,"hi":35.7},{"c":"HR","g":"PD","x":180,"m":25.9,"lo":17.7,"hi":34.2},{"c":"HR","g":"PD","x":210,"m":24.55,"lo":18.5,"hi":30.6},{"c":"HR","g":"PD","x":240,"m":24.05,"lo":18.5,"hi":29.6},
{"c":"RSNA","g":"VEH","x":-15,"m":-2.5,"lo":-8.1,"hi":3.1},{"c":"RSNA","g":"VEH","x":0,"m":0,"lo":0,"hi":0},{"c":"RSNA","g":"VEH","x":30,"m":38.55,"lo":30.4,"hi":46.7},{"c":"RSNA","g":"VEH","x":60,"m":70.9,"lo":59.45,"hi":82.3},{"c":"RSNA","g":"VEH","x":90,"m":80.1,"lo":68.2,"hi":92.0},{"c":"RSNA","g":"VEH","x":120,"m":78.4,"lo":69.2,"hi":87.6},{"c":"RSNA","g":"VEH","x":150,"m":72.0,"lo":60.9,"hi":83.0},{"c":"RSNA","g":"VEH","x":180,"m":69.05,"lo":58.5,"hi":79.6},{"c":"RSNA","g":"VEH","x":210,"m":67.2,"lo":56.7,"hi":78.4},{"c":"RSNA","g":"VEH","x":240,"m":66.1,"lo":54.8,"hi":77.5},
{"c":"RSNA","g":"PD","x":-15,"m":0.5,"lo":-6.0,"hi":7.0},{"c":"RSNA","g":"PD","x":0,"m":0,"lo":0,"hi":0},{"c":"RSNA","g":"PD","x":30,"m":16.6,"lo":10.2,"hi":22.9},{"c":"RSNA","g":"PD","x":60,"m":34.55,"lo":27.7,"hi":41.4},{"c":"RSNA","g":"PD","x":90,"m":42.6,"lo":32.2,"hi":52.6},{"c":"RSNA","g":"PD","x":120,"m":41.8,"lo":32.2,"hi":51.4},{"c":"RSNA","g":"PD","x":150,"m":37.7,"lo":28.9,"hi":46.5},{"c":"RSNA","g":"PD","x":180,"m":36.5,"lo":26.7,"hi":46.3},{"c":"RSNA","g":"PD","x":210,"m":36.35,"lo":27.7,"hi":45.0},{"c":"RSNA","g":"PD","x":240,"m":35.15,"lo":25.8,"hi":44.5}
]
},
"columns":2,
"spacing":{"row":30,"column":255},
"bounds":"flush",
"align":"each",
"concat":[
{"width":1508,"height":245,"data":{"values":[{}]},"resolve":{"axis":{"y":"independent"}},"layer":[
 {"data":{"name":"hrA"},"mark":{"type":"line","color":"#505050","strokeWidth":4},"encoding":{"x":{"field":"t","type":"quantitative","scale":{"domain":[-9.69,251.2],"nice":false,"zero":false},"axis":null},"y":{"field":"v","type":"quantitative","scale":{"domain":[168.9,500],"nice":false,"zero":false},"axis":{"values":[200,300,400,500],"labelExpr":"datum.value==200||datum.value==500?datum.label:''","labelBaseline":{"condition":{"test":"datum.value==500","value":"top"},"value":"middle"},"offset":-56,"tickSize":24,"tickWidth":4,"domainWidth":3,"labelFontSize":64,"labelFontWeight":"bold","labelPadding":6,"labelOverlap":false,"labelBound":false,"labelFlush":false,"title":["HR","(bpm)"],"titleAngle":0,"titleAlign":"center","titleBaseline":"middle","titleX":-271,"titleY":81,"titleFontSize":66,"titleFontWeight":"bold","titleLineHeight":82}}}},
 {"mark":{"type":"rect","color":"#ececec"},"encoding":{"x":{"datum":16.6,"type":"quantitative","axis":null},"x2":{"datum":251.2},"y":{"datum":436,"type":"quantitative","axis":null},"y2":{"datum":570}}},
 {"mark":{"type":"rule","color":"black","strokeWidth":3},"encoding":{"x":{"datum":16.6,"type":"quantitative","axis":null},"y":{"datum":436,"type":"quantitative","axis":null},"y2":{"datum":570}}},
 {"mark":{"type":"rule","color":"black","strokeWidth":3},"encoding":{"x":{"datum":251.2,"type":"quantitative","axis":null},"y":{"datum":436,"type":"quantitative","axis":null},"y2":{"datum":570}}},
 {"mark":{"type":"rule","color":"black","strokeWidth":3},"encoding":{"x":{"datum":27.8,"type":"quantitative","axis":null},"y":{"datum":755,"type":"quantitative","axis":null},"y2":{"datum":618}}},
 {"mark":{"type":"point","shape":"M-0.68,-1L0.68,-1L0,1Z","size":1681,"filled":true,"color":"black","opacity":1},"encoding":{"x":{"datum":27.8,"type":"quantitative","axis":null},"y":{"datum":618,"type":"quantitative","axis":null}}},
 {"mark":{"type":"rule","color":"black","strokeWidth":7},"encoding":{"x":{"datum":66.9,"type":"quantitative","axis":null},"x2":{"datum":89.6},"y":{"datum":489,"type":"quantitative","axis":null}}},
 {"mark":{"type":"point","shape":"M-1,0L1,-1.08L1,1.08Z","size":1369,"filled":true,"color":"black","opacity":1},"encoding":{"x":{"datum":66.9,"type":"quantitative","axis":null},"y":{"datum":489,"type":"quantitative","axis":null}}},
 {"mark":{"type":"rule","color":"black","strokeWidth":7},"encoding":{"x":{"datum":186,"type":"quantitative","axis":null},"x2":{"datum":209.1},"y":{"datum":489,"type":"quantitative","axis":null}}},
 {"mark":{"type":"point","shape":"M1,0L-1,-1.08L-1,1.08Z","size":1369,"filled":true,"color":"black","opacity":1},"encoding":{"x":{"datum":209.1,"type":"quantitative","axis":null},"y":{"datum":489,"type":"quantitative","axis":null}}},
 {"mark":{"type":"text","text":"ICV VEH","fontSize":66,"fontWeight":"bold","align":"center","baseline":"middle","color":"black"},"encoding":{"x":{"datum":135.6,"type":"quantitative","axis":null},"y":{"datum":475.7,"type":"quantitative","axis":null}}},
 {"mark":{"type":"text","text":"ICA TNF-α","fontSize":66,"fontWeight":"bold","align":"left","baseline":"middle","color":"black"},"encoding":{"x":{"datum":31.5,"type":"quantitative","axis":null},"y":{"datum":704,"type":"quantitative","axis":null}}},
 {"mark":{"type":"text","text":"A","fontSize":98,"fontWeight":"bold","align":"left","baseline":"top","color":"black"},"encoding":{"x":{"datum":-73,"type":"quantitative","axis":null},"y":{"datum":783.8,"type":"quantitative","axis":null}}}
]},
{"width":1461,"height":245,"data":{"values":[{}]},"resolve":{"axis":{"y":"independent"}},"layer":[
 {"data":{"name":"hrB"},"mark":{"type":"line","color":"#8a8a8a","strokeWidth":4},"encoding":{"x":{"field":"t","type":"quantitative","scale":{"domain":[-1.38,251.4],"nice":false,"zero":false},"axis":null},"y":{"field":"v","type":"quantitative","scale":{"domain":[168.9,500],"nice":false,"zero":false},"axis":{"values":[200,300,400,500],"labelExpr":"datum.value==200||datum.value==500?datum.label:''","labelBaseline":{"condition":{"test":"datum.value==500","value":"top"},"value":"middle"},"offset":-8,"tickSize":24,"tickWidth":4,"domainWidth":3,"labelFontSize":64,"labelFontWeight":"bold","labelPadding":6,"labelOverlap":false,"labelBound":false,"labelFlush":false,"title":null}}}},
 {"mark":{"type":"rect","color":"#ececec"},"encoding":{"x":{"datum":19.2,"type":"quantitative","axis":null},"x2":{"datum":251.4},"y":{"datum":436,"type":"quantitative","axis":null},"y2":{"datum":570}}},
 {"mark":{"type":"rule","color":"black","strokeWidth":3},"encoding":{"x":{"datum":19.2,"type":"quantitative","axis":null},"y":{"datum":436,"type":"quantitative","axis":null},"y2":{"datum":570}}},
 {"mark":{"type":"rule","color":"black","strokeWidth":3},"encoding":{"x":{"datum":251.4,"type":"quantitative","axis":null},"y":{"datum":436,"type":"quantitative","axis":null},"y2":{"datum":570}}},
 {"mark":{"type":"rule","color":"black","strokeWidth":3},"encoding":{"x":{"datum":35.8,"type":"quantitative","axis":null},"y":{"datum":751,"type":"quantitative","axis":null},"y2":{"datum":613.5}}},
 {"mark":{"type":"point","shape":"M-0.68,-1L0.68,-1L0,1Z","size":1681,"filled":true,"color":"black","opacity":1},"encoding":{"x":{"datum":35.8,"type":"quantitative","axis":null},"y":{"datum":613.5,"type":"quantitative","axis":null}}},
 {"mark":{"type":"rule","color":"black","strokeWidth":7},"encoding":{"x":{"datum":57.7,"type":"quantitative","axis":null},"x2":{"datum":80.3},"y":{"datum":489,"type":"quantitative","axis":null}}},
 {"mark":{"type":"point","shape":"M-1,0L1,-1.08L1,1.08Z","size":1369,"filled":true,"color":"black","opacity":1},"encoding":{"x":{"datum":57.7,"type":"quantitative","axis":null},"y":{"datum":489,"type":"quantitative","axis":null}}},
 {"mark":{"type":"rule","color":"black","strokeWidth":7},"encoding":{"x":{"datum":196.9,"type":"quantitative","axis":null},"x2":{"datum":220},"y":{"datum":489,"type":"quantitative","axis":null}}},
 {"mark":{"type":"point","shape":"M1,0L-1,-1.08L-1,1.08Z","size":1369,"filled":true,"color":"black","opacity":1},"encoding":{"x":{"datum":220,"type":"quantitative","axis":null},"y":{"datum":489,"type":"quantitative","axis":null}}},
 {"mark":{"type":"text","text":"ICV PD98059","fontSize":66,"fontWeight":"bold","align":"center","baseline":"middle","color":"black"},"encoding":{"x":{"datum":135,"type":"quantitative","axis":null},"y":{"datum":475.7,"type":"quantitative","axis":null}}},
 {"mark":{"type":"text","text":"ICA TNF-α","fontSize":66,"fontWeight":"bold","align":"left","baseline":"middle","color":"black"},"encoding":{"x":{"datum":40.3,"type":"quantitative","axis":null},"y":{"datum":697,"type":"quantitative","axis":null}}},
 {"mark":{"type":"text","text":"B","fontSize":98,"fontWeight":"bold","align":"left","baseline":"top","color":"black"},"encoding":{"x":{"datum":-31.1,"type":"quantitative","axis":null},"y":{"datum":783.8,"type":"quantitative","axis":null}}}
]},
{"width":1508,"height":244,"resolve":{"axis":{"y":"independent"}},"layer":[
 {"data":{"name":"spkAb"},"mark":{"type":"area","color":"black"},"encoding":{"x":{"field":"t","type":"quantitative","scale":{"domain":[-9.69,251.2],"nice":false,"zero":false},"axis":null},"y":{"field":"b","type":"quantitative","scale":{"domain":[-47.7,400],"nice":false,"zero":false},"axis":{"values":[0,100,200,300,400],"labelExpr":"datum.value==0||datum.value==400?datum.label:''","labelBaseline":{"condition":{"test":"datum.value==400","value":"top"},"value":"middle"},"offset":-56,"tickSize":24,"tickWidth":4,"domainWidth":3,"labelFontSize":64,"labelFontWeight":"bold","labelPadding":6,"labelOverlap":false,"labelBound":false,"labelFlush":false,"title":["RSNA","(spikes/s)"],"titleAngle":0,"titleAlign":"center","titleBaseline":"middle","titleX":-271,"titleY":74,"titleFontSize":66,"titleFontWeight":"bold","titleLineHeight":85}},"y2":{"datum":-25}}},
 {"data":{"name":"spkA"},"mark":{"type":"rule","color":"black","strokeWidth":2.5},"encoding":{"x":{"field":"t","type":"quantitative","axis":null},"y":{"field":"v","type":"quantitative","axis":null},"y2":{"datum":-25}}}
]},
{"width":1461,"height":244,"resolve":{"axis":{"y":"independent"}},"layer":[
 {"data":{"name":"spkBb"},"mark":{"type":"area","color":"black"},"encoding":{"x":{"field":"t","type":"quantitative","scale":{"domain":[-1.38,251.4],"nice":false,"zero":false},"axis":null},"y":{"field":"b","type":"quantitative","scale":{"domain":[-47.7,400],"nice":false,"zero":false},"axis":{"values":[0,100,200,300,400],"labelExpr":"datum.value==0||datum.value==400?datum.label:''","labelBaseline":{"condition":{"test":"datum.value==400","value":"top"},"value":"middle"},"offset":-8,"tickSize":24,"tickWidth":4,"domainWidth":3,"labelFontSize":64,"labelFontWeight":"bold","labelPadding":6,"labelOverlap":false,"labelBound":false,"labelFlush":false,"title":null}},"y2":{"datum":-25}}},
 {"data":{"name":"spkB"},"mark":{"type":"rule","color":"black","strokeWidth":2.5},"encoding":{"x":{"field":"t","type":"quantitative","axis":null},"y":{"field":"v","type":"quantitative","axis":null},"y2":{"datum":-25}}}
]},
{"width":1508,"height":233,"resolve":{"axis":{"y":"independent"}},"layer":[
 {"data":{"name":"mvAb"},"mark":{"type":"area","color":"black"},"encoding":{"x":{"field":"t","type":"quantitative","scale":{"domain":[-9.69,251.2],"nice":false,"zero":false},"axis":null},"y":{"field":"b","type":"quantitative","scale":{"domain":[-6.4,100],"nice":false,"zero":false},"axis":{"values":[0,25,50,75,100],"labelExpr":"datum.value==0||datum.value==100?datum.label:''","labelBaseline":{"condition":{"test":"datum.value==100","value":"top"},"value":"middle"},"offset":-56,"tickSize":24,"tickWidth":4,"domainWidth":3,"labelFontSize":64,"labelFontWeight":"bold","labelPadding":6,"labelOverlap":false,"labelBound":false,"labelFlush":false,"title":["RSNA","(mV)"],"titleAngle":0,"titleAlign":"center","titleBaseline":"middle","titleX":-271,"titleY":93,"titleFontSize":66,"titleFontWeight":"bold","titleLineHeight":80}},"y2":{"datum":-2}}},
 {"data":{"name":"mvA"},"mark":{"type":"rule","color":"black","strokeWidth":2.5},"encoding":{"x":{"field":"t","type":"quantitative","axis":null},"y":{"field":"v","type":"quantitative","axis":null},"y2":{"datum":-2}}}
]},
{"width":1461,"height":233,"resolve":{"axis":{"y":"independent"}},"layer":[
 {"data":{"name":"mvBb"},"mark":{"type":"area","color":"black"},"encoding":{"x":{"field":"t","type":"quantitative","scale":{"domain":[-1.38,251.4],"nice":false,"zero":false},"axis":null},"y":{"field":"b","type":"quantitative","scale":{"domain":[-6.4,100],"nice":false,"zero":false},"axis":{"values":[0,25,50,75,100],"labelExpr":"datum.value==0||datum.value==100?datum.label:''","labelBaseline":{"condition":{"test":"datum.value==100","value":"top"},"value":"middle"},"offset":-8,"tickSize":24,"tickWidth":4,"domainWidth":3,"labelFontSize":64,"labelFontWeight":"bold","labelPadding":6,"labelOverlap":false,"labelBound":false,"labelFlush":false,"title":null}},"y2":{"datum":-2}}},
 {"data":{"name":"mvB"},"mark":{"type":"rule","color":"black","strokeWidth":2.5},"encoding":{"x":{"field":"t","type":"quantitative","axis":null},"y":{"field":"v","type":"quantitative","axis":null},"y2":{"datum":-2}}}
]},
{"width":1508,"height":231,"data":{"values":[{}]},"resolve":{"axis":{"y":"independent"}},"layer":[
 {"data":{"name":"bpA"},"mark":{"type":"area","color":"black"},"encoding":{"x":{"field":"t","type":"quantitative","scale":{"domain":[-9.69,251.2],"nice":false,"zero":false},"axis":null},"y":{"field":"lo","type":"quantitative","scale":{"domain":[-2.8,210],"nice":false,"zero":false},"axis":{"values":[0,50,100,150,200],"labelExpr":"datum.value==0||datum.value==200?datum.label:''","labelBaseline":{"condition":{"test":"datum.value==200","value":"top"},"value":"middle"},"offset":-56,"tickSize":24,"tickWidth":4,"domainWidth":3,"labelFontSize":64,"labelFontWeight":"bold","labelPadding":6,"labelOverlap":false,"labelBound":false,"labelFlush":false,"title":["BP","(mmHg)"],"titleAngle":0,"titleAlign":"center","titleBaseline":"middle","titleX":-271,"titleY":89,"titleFontSize":66,"titleFontWeight":"bold","titleLineHeight":80}},"y2":{"field":"hi"}}},
 {"mark":{"type":"rule","color":"black","strokeWidth":10},"encoding":{"x":{"datum":213.5,"type":"quantitative","axis":null},"x2":{"datum":243.6},"y":{"datum":28.6,"type":"quantitative","axis":null}}},
 {"mark":{"type":"text","text":"30 min","fontSize":66,"fontWeight":"bold","align":"center","baseline":"middle","color":"black"},"encoding":{"x":{"datum":228,"type":"quantitative","axis":null},"y":{"datum":-35.9,"type":"quantitative","axis":null}}}
]},
{"width":1461,"height":231,"data":{"values":[{}]},"resolve":{"axis":{"y":"independent"}},"layer":[
 {"data":{"name":"bpB"},"mark":{"type":"area","color":"black"},"encoding":{"x":{"field":"t","type":"quantitative","scale":{"domain":[-1.38,251.4],"nice":false,"zero":false},"axis":null},"y":{"field":"lo","type":"quantitative","scale":{"domain":[-2.8,210],"nice":false,"zero":false},"axis":{"values":[0,50,100,150,200],"labelExpr":"datum.value==0||datum.value==200?datum.label:''","labelBaseline":{"condition":{"test":"datum.value==200","value":"top"},"value":"middle"},"offset":-8,"tickSize":24,"tickWidth":4,"domainWidth":3,"labelFontSize":64,"labelFontWeight":"bold","labelPadding":6,"labelOverlap":false,"labelBound":false,"labelFlush":false,"title":null}},"y2":{"field":"hi"}}},
 {"mark":{"type":"rule","color":"black","strokeWidth":10},"encoding":{"x":{"datum":211.8,"type":"quantitative","axis":null},"x2":{"datum":241.0},"y":{"datum":28.6,"type":"quantitative","axis":null}}},
 {"mark":{"type":"text","text":"30 min","fontSize":66,"fontWeight":"bold","align":"center","baseline":"middle","color":"black"},"encoding":{"x":{"datum":226.5,"type":"quantitative","axis":null},"y":{"datum":-35.9,"type":"quantitative","axis":null}}}
]},
{"width":10,"height":157,"data":{"values":[{}]},"mark":{"type":"point","opacity":0},"encoding":{}},
{"width":10,"height":157,"data":{"values":[{}]},"mark":{"type":"point","opacity":0},"encoding":{}},
{"width":1397,"height":813,"data":{"name":"cdata"},"resolve":{"axis":{"x":"independent","y":"independent"}},"layer":[
 {"transform":[{"filter":"datum.c=='MBP'"}],"mark":{"type":"line","interpolate":"monotone","color":"#1a1a1a","strokeWidth":4},"encoding":{"x":{"field":"x","type":"quantitative","scale":{"domain":[-35,257],"nice":false,"zero":false},"axis":{"values":[-30,0,30,60,90,120,150,180,210,240],"labelExpr":"datum.value==0?'(min)':(datum.value>0&&datum.value%60==0?datum.label:'')","labelOffset":{"condition":{"test":"datum.value==0","value":-26},"value":0},"tickSize":31,"tickWidth":3,"domainWidth":3,"labelFontSize":66,"labelFontWeight":"bold","labelPadding":27,"labelFlush":false,"labelOverlap":false,"labelBound":false,"title":null}},"y":{"field":"m","type":"quantitative","scale":{"domain":[-5,25],"nice":false,"zero":false},"axis":{"values":[0,5,10,15,20,25],"offset":-24,"tickSize":29,"tickWidth":3,"domainWidth":3,"labelFontSize":66,"labelFontWeight":"bold","labelPadding":22,"labelOverlap":false,"labelBound":false,"labelFlush":false,"title":"Δ MBP (mmHg)","titleFontSize":65,"titleFontWeight":"bold","titleAngle":270,"titleBaseline":"middle","titleAlign":"center","titleX":-189,"titleY":333}},"detail":{"field":"g"}}},
 {"transform":[{"filter":"datum.c=='MBP'"}],"mark":{"type":"rule","color":"black","strokeWidth":5},"encoding":{"x":{"field":"x","type":"quantitative","axis":null},"y":{"field":"lo","type":"quantitative","axis":null},"y2":{"field":"hi"}}},
 {"transform":[{"filter":"datum.c=='MBP'"}],"mark":{"type":"point","shape":"stroke","size":900,"strokeWidth":5,"color":"black","opacity":1},"encoding":{"x":{"field":"x","type":"quantitative","axis":null},"y":{"field":"lo","type":"quantitative","axis":null}}},
 {"transform":[{"filter":"datum.c=='MBP'"}],"mark":{"type":"point","shape":"stroke","size":900,"strokeWidth":5,"color":"black","opacity":1},"encoding":{"x":{"field":"x","type":"quantitative","axis":null},"y":{"field":"hi","type":"quantitative","axis":null}}},
 {"transform":[{"filter":"datum.c=='MBP'"}],"mark":{"type":"point","shape":"M-0.864,-1H0.864V1H-0.864Z","size":1936,"filled":true,"stroke":"black","strokeWidth":5,"opacity":1},"encoding":{"x":{"field":"x","type":"quantitative","axis":null},"y":{"field":"m","type":"quantitative","axis":null},"fill":{"condition":{"test":"datum.g=='VEH'","value":"black"},"value":"white"}}},
 {"transform":[{"filter":"datum.c=='MBP' && datum.g=='VEH' && datum.x>=30"}],"mark":{"type":"text","text":"*","font":"Liberation Serif","fontSize":90,"baseline":"alphabetic","align":"center","dy":-17,"color":"black"},"encoding":{"x":{"field":"x","type":"quantitative","axis":null},"y":{"field":"hi","type":"quantitative","axis":null}}},
 {"transform":[{"filter":"datum.c=='MBP' && datum.g=='PD' && datum.x>=30"}],"mark":{"type":"text","text":"*†","font":"Liberation Serif","fontSize":94,"baseline":"alphabetic","align":"center","dx":4,"dy":105,"color":"black"},"encoding":{"x":{"field":"x","type":"quantitative","axis":null},"y":{"field":"lo","type":"quantitative","axis":null}}},
 {"data":{"values":[{}]},"mark":{"type":"text","text":"C","fontSize":98,"fontWeight":"bold","align":"left","baseline":"top","color":"black"},"encoding":{"x":{"datum":-111.5,"type":"quantitative","axis":null},"y":{"datum":28.14,"type":"quantitative","axis":null}}}
]},
{"width":1419,"height":813,"data":{"name":"cdata"},"resolve":{"axis":{"x":"independent","y":"independent"}},"layer":[
 {"transform":[{"filter":"datum.c=='HR'"}],"mark":{"type":"line","interpolate":"monotone","color":"#1a1a1a","strokeWidth":4},"encoding":{"x":{"field":"x","type":"quantitative","scale":{"domain":[-36,260.5],"nice":false,"zero":false},"axis":{"values":[-30,0,30,60,90,120,150,180,210,240],"labelExpr":"datum.value==0?'(min)':(datum.value>0&&datum.value%60==0?datum.label:'')","labelOffset":{"condition":{"test":"datum.value==0","value":-26},"value":0},"tickSize":31,"tickWidth":3,"domainWidth":3,"labelFontSize":66,"labelFontWeight":"bold","labelPadding":27,"labelFlush":false,"labelOverlap":false,"labelBound":false,"title":null}},"y":{"field":"m","type":"quantitative","scale":{"domain":[-20,80],"nice":false,"zero":false},"axis":{"values":[0,20,40,60,80],"offset":-29,"tickSize":29,"tickWidth":3,"domainWidth":3,"labelFontSize":66,"labelFontWeight":"bold","labelPadding":22,"labelOverlap":false,"labelBound":false,"labelFlush":false,"title":"Δ HR (bpm)","titleFontSize":65,"titleFontWeight":"bold","titleAngle":270,"titleBaseline":"middle","titleAlign":"center","titleX":-178,"titleY":349}},"detail":{"field":"g"}}},
 {"transform":[{"filter":"datum.c=='HR'"}],"mark":{"type":"rule","color":"black","strokeWidth":5},"encoding":{"x":{"field":"x","type":"quantitative","axis":null},"y":{"field":"lo","type":"quantitative","axis":null},"y2":{"field":"hi"}}},
 {"transform":[{"filter":"datum.c=='HR'"}],"mark":{"type":"point","shape":"stroke","size":900,"strokeWidth":5,"color":"black","opacity":1},"encoding":{"x":{"field":"x","type":"quantitative","axis":null},"y":{"field":"lo","type":"quantitative","axis":null}}},
 {"transform":[{"filter":"datum.c=='HR'"}],"mark":{"type":"point","shape":"stroke","size":900,"strokeWidth":5,"color":"black","opacity":1},"encoding":{"x":{"field":"x","type":"quantitative","axis":null},"y":{"field":"hi","type":"quantitative","axis":null}}},
 {"transform":[{"filter":"datum.c=='HR'"}],"mark":{"type":"point","shape":"M-0.864,-1H0.864V1H-0.864Z","size":1936,"filled":true,"stroke":"black","strokeWidth":5,"opacity":1},"encoding":{"x":{"field":"x","type":"quantitative","axis":null},"y":{"field":"m","type":"quantitative","axis":null},"fill":{"condition":{"test":"datum.g=='VEH'","value":"black"},"value":"white"}}},
 {"transform":[{"filter":"datum.c=='HR' && datum.g=='VEH' && datum.x>=30"}],"mark":{"type":"text","text":"*","font":"Liberation Serif","fontSize":90,"baseline":"alphabetic","align":"center","dy":-17,"color":"black"},"encoding":{"x":{"field":"x","type":"quantitative","axis":null},"y":{"field":"hi","type":"quantitative","axis":null}}},
 {"transform":[{"filter":"datum.c=='HR' && datum.g=='PD' && datum.x>=30"}],"mark":{"type":"text","text":"*†","font":"Liberation Serif","fontSize":94,"baseline":"alphabetic","align":"center","dx":4,"dy":105,"color":"black"},"encoding":{"x":{"field":"x","type":"quantitative","axis":null},"y":{"field":"lo","type":"quantitative","axis":null}}}
]},
{"width":10,"height":239,"data":{"values":[{}]},"mark":{"type":"point","opacity":0},"encoding":{}},
{"width":10,"height":239,"data":{"values":[{}]},"mark":{"type":"point","opacity":0},"encoding":{}},
{"width":1397,"height":813,"data":{"name":"cdata"},"resolve":{"axis":{"x":"independent","y":"independent"}},"layer":[
 {"transform":[{"filter":"datum.c=='RSNA'"}],"mark":{"type":"line","interpolate":"monotone","color":"#1a1a1a","strokeWidth":4},"encoding":{"x":{"field":"x","type":"quantitative","scale":{"domain":[-35,257],"nice":false,"zero":false},"axis":{"values":[-30,0,30,60,90,120,150,180,210,240],"labelExpr":"datum.value==0?'(min)':(datum.value>0&&datum.value%60==0?datum.label:'')","labelOffset":{"condition":{"test":"datum.value==0","value":-26},"value":0},"tickSize":31,"tickWidth":3,"domainWidth":3,"labelFontSize":66,"labelFontWeight":"bold","labelPadding":27,"labelFlush":false,"labelOverlap":false,"labelBound":false,"title":null}},"y":{"field":"m","type":"quantitative","scale":{"domain":[-20,100],"nice":false,"zero":false},"axis":{"values":[0,20,40,60,80,100],"offset":-24,"tickSize":29,"tickWidth":3,"domainWidth":3,"labelFontSize":66,"labelFontWeight":"bold","labelPadding":22,"labelOverlap":false,"labelBound":false,"labelFlush":false,"title":"Δ RSNA (%)","titleFontSize":65,"titleFontWeight":"bold","titleAngle":270,"titleBaseline":"middle","titleAlign":"center","titleX":-183,"titleY":368}},"detail":{"field":"g"}}},
 {"transform":[{"filter":"datum.c=='RSNA'"}],"mark":{"type":"rule","color":"black","strokeWidth":5},"encoding":{"x":{"field":"x","type":"quantitative","axis":null},"y":{"field":"lo","type":"quantitative","axis":null},"y2":{"field":"hi"}}},
 {"transform":[{"filter":"datum.c=='RSNA'"}],"mark":{"type":"point","shape":"stroke","size":900,"strokeWidth":5,"color":"black","opacity":1},"encoding":{"x":{"field":"x","type":"quantitative","axis":null},"y":{"field":"lo","type":"quantitative","axis":null}}},
 {"transform":[{"filter":"datum.c=='RSNA'"}],"mark":{"type":"point","shape":"stroke","size":900,"strokeWidth":5,"color":"black","opacity":1},"encoding":{"x":{"field":"x","type":"quantitative","axis":null},"y":{"field":"hi","type":"quantitative","axis":null}}},
 {"transform":[{"filter":"datum.c=='RSNA'"}],"mark":{"type":"point","shape":"M-0.864,-1H0.864V1H-0.864Z","size":1936,"filled":true,"stroke":"black","strokeWidth":5,"opacity":1},"encoding":{"x":{"field":"x","type":"quantitative","axis":null},"y":{"field":"m","type":"quantitative","axis":null},"fill":{"condition":{"test":"datum.g=='VEH'","value":"black"},"value":"white"}}},
 {"transform":[{"filter":"datum.c=='RSNA' && datum.g=='VEH' && datum.x>=30"}],"mark":{"type":"text","text":"*","font":"Liberation Serif","fontSize":90,"baseline":"alphabetic","align":"center","dy":-17,"color":"black"},"encoding":{"x":{"field":"x","type":"quantitative","axis":null},"y":{"field":"hi","type":"quantitative","axis":null}}},
 {"transform":[{"filter":"datum.c=='RSNA' && datum.g=='PD' && datum.x>=30"}],"mark":{"type":"text","text":"*†","font":"Liberation Serif","fontSize":94,"baseline":"alphabetic","align":"center","dx":4,"dy":105,"color":"black"},"encoding":{"x":{"field":"x","type":"quantitative","axis":null},"y":{"field":"lo","type":"quantitative","axis":null}}}
]},
{"width":1419,"height":813,"data":{"values":[{"s":"ICV VEH + ICA TNF-α","g":"VEH"},{"s":"ICV PD98059 + ICA TNF-α","g":"PD"}]},
 "encoding":{"y":{"field":"s","type":"nominal","sort":null,"scale":{"type":"point","range":[233,346],"padding":0},"axis":null}},
 "layer":[
 {"mark":{"type":"rule","color":"black","strokeWidth":10},"encoding":{"x":{"datum":0,"type":"quantitative","scale":{"domain":[-0.943,9.193],"nice":false,"zero":false},"axis":null},"x2":{"datum":1}}},
 {"mark":{"type":"point","shape":"M-0.818,-1H0.818V1H-0.818Z","size":4356,"filled":true,"stroke":"black","strokeWidth":5,"opacity":1},"encoding":{"x":{"datum":0,"type":"quantitative","axis":null},"fill":{"condition":{"test":"datum.g=='VEH'","value":"black"},"value":"white"}}},
 {"mark":{"type":"point","shape":"M-0.818,-1H0.818V1H-0.818Z","size":4356,"filled":true,"stroke":"black","strokeWidth":5,"opacity":1},"encoding":{"x":{"datum":1,"type":"quantitative","axis":null},"fill":{"condition":{"test":"datum.g=='VEH'","value":"black"},"value":"white"}}},
 {"mark":{"type":"text","align":"left","baseline":"middle","dy":4,"fontSize":67,"fontWeight":"bold","color":"black"},"encoding":{"x":{"datum":1.66,"type":"quantitative","axis":null},"text":{"field":"s"}}}
]}
]
}
